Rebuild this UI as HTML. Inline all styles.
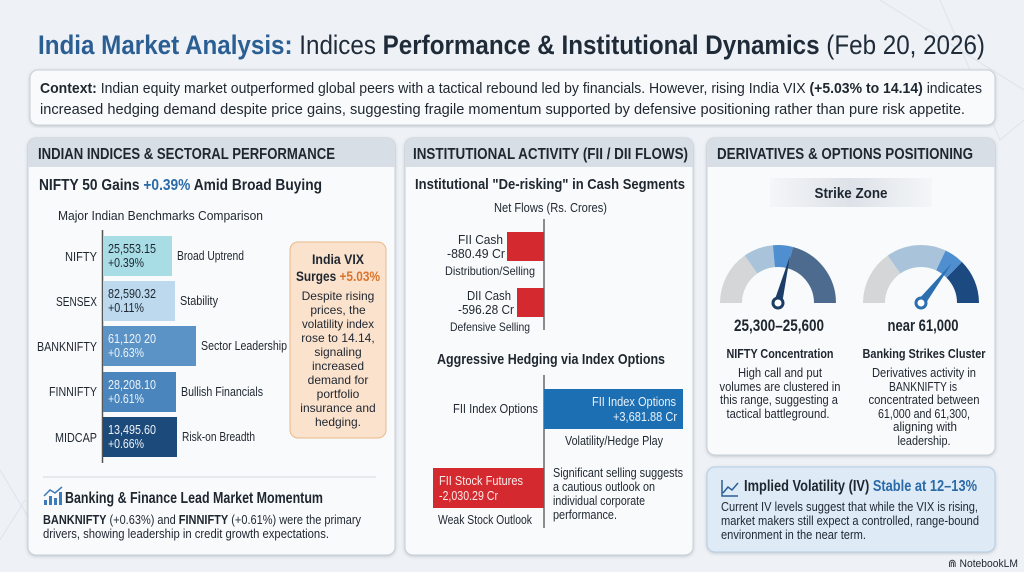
<!DOCTYPE html>
<html><head><meta charset="utf-8"><style>
html,body{margin:0;padding:0;background:#eef1f5;}
svg{display:block;font-family:"Liberation Sans",sans-serif;}
</style></head><body>
<svg width="1024" height="572" viewBox="0 0 1024 572" xmlns="http://www.w3.org/2000/svg">
<defs>
<filter id="sh" x="-5%" y="-5%" width="110%" height="110%"><feDropShadow dx="0" dy="1" stdDeviation="1.5" flood-color="#8a96a3" flood-opacity="0.45"/></filter>
<linearGradient id="sz" x1="0" x2="1"><stop offset="0" stop-color="#f4f6f8"/><stop offset="0.5" stop-color="#dde2e8"/><stop offset="1" stop-color="#f4f6f8"/></linearGradient>
</defs>
<rect width="1024" height="572" fill="#eef1f5"/>
<g stroke="#dfe4ea" stroke-width="1" fill="none">
<path d="M880 0 L1024 90 M940 0 L1000 140 L1024 120 M0 470 L30 520 M0 540 L25 500"/>
</g>
<text x="38" y="54" font-size="27" fill="#1f2b38" textLength="947" lengthAdjust="spacingAndGlyphs"><tspan font-weight="bold" fill="#2b5f94">India Market Analysis:</tspan> Indices <tspan font-weight="bold">Performance &amp; Institutional Dynamics</tspan> (Feb 20, 2026)</text>
<rect x="30" y="70" width="965" height="55" rx="8" fill="#f9fafb" stroke="#c9d0d8" filter="url(#sh)"/>
<text x="40" y="93" font-size="15" fill="#1e2630" textLength="942" lengthAdjust="spacingAndGlyphs"><tspan font-weight="bold">Context:</tspan> Indian equity market outperformed global peers with a tactical rebound led by financials. However, rising India VIX <tspan font-weight="bold">(+5.03% to 14.14)</tspan> indicates</text>
<text x="40" y="114" font-size="15" fill="#1e2630" textLength="925" lengthAdjust="spacingAndGlyphs">increased hedging demand despite price gains, suggesting fragile momentum supported by defensive positioning rather than pure risk appetite.</text>

<!-- Panel 1 -->
<rect x="28" y="138" width="367" height="417" rx="8" fill="#f9fafb" stroke="#c9d0d8" filter="url(#sh)"/>
<path d="M36 138 H387 a8 8 0 0 1 8 8 V167 H28 V146 a8 8 0 0 1 8 -8z" fill="#d8dee5"/>
<text x="38" y="159" font-size="16" font-weight="bold" fill="#1e2630" textLength="297" lengthAdjust="spacingAndGlyphs">INDIAN INDICES &amp; SECTORAL PERFORMANCE</text>
<text x="39" y="190" font-size="16" font-weight="bold" fill="#1e2630" textLength="283" lengthAdjust="spacingAndGlyphs">NIFTY 50 Gains <tspan fill="#2b6aa8">+0.39%</tspan> Amid Broad Buying</text>
<text x="58" y="220" font-size="13" fill="#1e2630" textLength="205" lengthAdjust="spacingAndGlyphs">Major Indian Benchmarks Comparison</text>
<line x1="102.5" y1="230" x2="102.5" y2="463" stroke="#555" stroke-width="1.5"/>
<g font-size="13">
<rect x="103" y="236" width="69" height="40" fill="#a8dde6"/>
<rect x="103" y="281" width="72" height="40" fill="#bcd9ee"/>
<rect x="103" y="326" width="93" height="40" fill="#5b93c7"/>
<rect x="103" y="372" width="73" height="40" fill="#4a86bd"/>
<rect x="103" y="417" width="74" height="40" fill="#1c4a7a"/>
<g text-anchor="end" fill="#1e2630">
<text x="97" y="261" textLength="32" lengthAdjust="spacingAndGlyphs">NIFTY</text>
<text x="97" y="306" textLength="41" lengthAdjust="spacingAndGlyphs">SENSEX</text>
<text x="97" y="351" textLength="60" lengthAdjust="spacingAndGlyphs">BANKNIFTY</text>
<text x="97" y="396" textLength="48" lengthAdjust="spacingAndGlyphs">FINNIFTY</text>
<text x="97" y="442" textLength="42" lengthAdjust="spacingAndGlyphs">MIDCAP</text></g>
<g fill="#1e2630"><text x="108" y="253" textLength="48" lengthAdjust="spacingAndGlyphs">25,553.15</text><text x="108" y="267" textLength="36" lengthAdjust="spacingAndGlyphs">+0.39%</text>
<text x="108" y="298" textLength="48" lengthAdjust="spacingAndGlyphs">82,590.32</text><text x="108" y="312" textLength="36" lengthAdjust="spacingAndGlyphs">+0.11%</text></g>
<g fill="#eef4fa"><text x="108" y="343" textLength="48" lengthAdjust="spacingAndGlyphs">61,120 20</text><text x="108" y="357" textLength="36" lengthAdjust="spacingAndGlyphs">+0.63%</text>
<text x="108" y="389" textLength="48" lengthAdjust="spacingAndGlyphs">28,208.10</text><text x="108" y="403" textLength="36" lengthAdjust="spacingAndGlyphs">+0.61%</text>
<text x="108" y="434" textLength="48" lengthAdjust="spacingAndGlyphs">13,495.60</text><text x="108" y="448" textLength="36" lengthAdjust="spacingAndGlyphs">+0.66%</text></g>
<g fill="#1e2630"><text x="177" y="260" textLength="67" lengthAdjust="spacingAndGlyphs">Broad Uptrend</text><text x="180" y="305" textLength="38" lengthAdjust="spacingAndGlyphs">Stability</text><text x="201" y="350" textLength="86" lengthAdjust="spacingAndGlyphs">Sector Leadership</text><text x="181" y="396" textLength="82" lengthAdjust="spacingAndGlyphs">Bullish Financials</text><text x="182" y="441" textLength="73" lengthAdjust="spacingAndGlyphs">Risk-on Breadth</text></g>
</g>
<rect x="290" y="242" width="96" height="196" rx="8" fill="#fbe2cd" stroke="#e9b88a"/>
<g text-anchor="middle" font-size="12" fill="#1e2630">
<text x="338" y="264" font-weight="bold" font-size="14" textLength="52" lengthAdjust="spacingAndGlyphs">India VIX</text>
<text x="338" y="281" font-weight="bold" font-size="14" textLength="84" lengthAdjust="spacingAndGlyphs">Surges <tspan fill="#d9742c">+5.03%</tspan></text>
<text x="338" y="300">Despite rising</text><text x="338" y="314">prices, the</text><text x="338" y="328" textLength="72" lengthAdjust="spacingAndGlyphs">volatility index</text><text x="338" y="342">rose to 14.14,</text><text x="338" y="356">signaling</text><text x="338" y="370">increased</text><text x="338" y="384">demand for</text><text x="338" y="398">portfolio</text><text x="338" y="412">insurance and</text><text x="338" y="426">hedging.</text></g>
<line x1="43" y1="477" x2="376" y2="477" stroke="#d4d9df"/>
<g fill="#3d7bbd"><rect x="44" y="500" width="3" height="5"/><rect x="49" y="496" width="3" height="9"/><rect x="54" y="498" width="3" height="7"/><rect x="59" y="492" width="3" height="13"/></g>
<path d="M44 496 L50 490 L55 493 L62 487" stroke="#3d7bbd" stroke-width="1.5" fill="none"/>
<text x="65" y="503" font-size="15.5" font-weight="bold" fill="#1e2630" textLength="258" lengthAdjust="spacingAndGlyphs">Banking &amp; Finance Lead Market Momentum</text>
<text x="43" y="524" font-size="13" fill="#1e2630" textLength="318" lengthAdjust="spacingAndGlyphs"><tspan font-weight="bold">BANKNIFTY</tspan> (+0.63%) and <tspan font-weight="bold">FINNIFTY</tspan> (+0.61%) were the primary</text>
<text x="43" y="538" font-size="13" fill="#1e2630" textLength="286" lengthAdjust="spacingAndGlyphs">drivers, showing leadership in credit growth expectations.</text>

<!-- Panel 2 -->
<rect x="405" y="138" width="288" height="417" rx="8" fill="#f9fafb" stroke="#c9d0d8" filter="url(#sh)"/>
<path d="M413 138 H685 a8 8 0 0 1 8 8 V167 H405 V146 a8 8 0 0 1 8 -8z" fill="#d8dee5"/>
<text x="413" y="159" font-size="16" font-weight="bold" fill="#1e2630" textLength="275" lengthAdjust="spacingAndGlyphs">INSTITUTIONAL ACTIVITY (FII / DII FLOWS)</text>
<text x="415" y="189" font-size="15" font-weight="bold" fill="#1e2630" textLength="270" lengthAdjust="spacingAndGlyphs">Institutional "De-risking" in Cash Segments</text>
<text x="494" y="212" font-size="12.5" fill="#1e2630" textLength="113" lengthAdjust="spacingAndGlyphs">Net Flows (Rs. Crores)</text>
<line x1="544" y1="219" x2="544" y2="330" stroke="#444" stroke-width="1.2"/>
<rect x="507" y="232" width="37" height="29" fill="#d42a2f"/>
<rect x="517" y="288" width="27" height="29" fill="#d42a2f"/>
<g font-size="13" fill="#1e2630" text-anchor="end">
<text x="503" y="244" textLength="45" lengthAdjust="spacingAndGlyphs">FII Cash</text><text x="505" y="258" textLength="58" lengthAdjust="spacingAndGlyphs">-880.49 Cr</text>
<text x="511" y="300" textLength="44" lengthAdjust="spacingAndGlyphs">DII Cash</text><text x="514" y="314" textLength="56" lengthAdjust="spacingAndGlyphs">-596.28 Cr</text></g>
<g font-size="12" fill="#1e2630" text-anchor="middle">
<text x="490" y="275" textLength="90" lengthAdjust="spacingAndGlyphs">Distribution/Selling</text><text x="490" y="331" textLength="80" lengthAdjust="spacingAndGlyphs">Defensive Selling</text></g>
<text x="437" y="364" font-size="15" font-weight="bold" fill="#1e2630" textLength="228" lengthAdjust="spacingAndGlyphs">Aggressive Hedging via Index Options</text>
<line x1="544" y1="375" x2="544" y2="528" stroke="#444" stroke-width="1.2"/>
<rect x="544" y="389" width="139" height="40" fill="#1d6fb3"/>
<text x="676" y="406" text-anchor="end" font-size="13" fill="#eaf2fa" textLength="84" lengthAdjust="spacingAndGlyphs">FII Index Options</text>
<text x="677" y="421" text-anchor="end" font-size="13" fill="#eaf2fa" textLength="64" lengthAdjust="spacingAndGlyphs">+3,681.88 Cr</text>
<text x="538" y="413" text-anchor="end" font-size="13" fill="#1e2630" textLength="85" lengthAdjust="spacingAndGlyphs">FII Index Options</text>
<text x="565" y="445" font-size="12.5" fill="#1e2630" textLength="98" lengthAdjust="spacingAndGlyphs">Volatility/Hedge Play</text>
<rect x="433" y="468" width="111" height="40" fill="#d42a2f"/>
<text x="439" y="485" font-size="13" fill="#fbe9e9" textLength="84" lengthAdjust="spacingAndGlyphs">FII Stock Futures</text>
<text x="439" y="500" font-size="13" fill="#fbe9e9" textLength="59" lengthAdjust="spacingAndGlyphs">-2,030.29 Cr</text>
<text x="438" y="524" font-size="12.5" fill="#1e2630" textLength="94" lengthAdjust="spacingAndGlyphs">Weak Stock Outlook</text>
<g font-size="12.5" fill="#1e2630"><text x="553" y="477" textLength="130" lengthAdjust="spacingAndGlyphs">Significant selling suggests</text><text x="553" y="491" textLength="102" lengthAdjust="spacingAndGlyphs">a cautious outlook on</text><text x="553" y="505" textLength="92" lengthAdjust="spacingAndGlyphs">individual corporate</text><text x="553" y="519" textLength="64" lengthAdjust="spacingAndGlyphs">performance.</text></g>

<!-- Panel 3 -->
<rect x="707" y="138" width="288" height="317" rx="8" fill="#f9fafb" stroke="#c9d0d8" filter="url(#sh)"/>
<path d="M715 138 H987 a8 8 0 0 1 8 8 V167 H707 V146 a8 8 0 0 1 8 -8z" fill="#d8dee5"/>
<text x="717" y="159" font-size="16" font-weight="bold" fill="#1e2630" textLength="256" lengthAdjust="spacingAndGlyphs">DERIVATIVES &amp; OPTIONS POSITIONING</text>
<rect x="770" y="178" width="162" height="29" fill="url(#sz)"/>
<text x="851" y="198" text-anchor="middle" font-size="15" font-weight="bold" fill="#1e2630" textLength="73" lengthAdjust="spacingAndGlyphs">Strike Zone</text>
<g fill="none" stroke-width="22">
<path d="M731 303 A47 47 0 0 1 751 264.5" stroke="#d4d6d8"/>
<path d="M751 264.5 A47 47 0 0 1 773.9 256.2" stroke="#a9c4da"/>
<path d="M773.9 256.2 A47 47 0 0 1 790.2 257.6" stroke="#4f8fcf"/>
<path d="M790.2 257.6 A47 47 0 0 1 825 303" stroke="#4d6b8e"/>
<path d="M874 303 A47 47 0 0 1 894 264.5" stroke="#d4d6d8"/>
<path d="M894 264.5 A47 47 0 0 1 940.9 260.4" stroke="#a9c4da"/>
<path d="M940.9 260.4 A47 47 0 0 1 954.2 269.8" stroke="#4f8fcf"/>
<path d="M954.2 269.8 A47 47 0 0 1 968 303" stroke="#1c4a80"/>
</g>
<path d="M774 302 L790 256 L782 304 Z" fill="#1c3d66"/>
<circle cx="778" cy="303" r="5" fill="#fff" stroke="#1c3d66" stroke-width="3"/>
<path d="M918 300 L952 263 L924 306 Z" fill="#2a6fb0"/>
<circle cx="921" cy="303" r="5" fill="#fff" stroke="#2a6fb0" stroke-width="3"/>
<g text-anchor="middle" fill="#1e2630">
<text x="779" y="331" font-size="17" font-weight="bold" textLength="90" lengthAdjust="spacingAndGlyphs">25,300–25,600</text>
<text x="923" y="331" font-size="17" font-weight="bold" textLength="71" lengthAdjust="spacingAndGlyphs">near 61,000</text>
<text x="780" y="358" font-size="13" font-weight="bold" textLength="107" lengthAdjust="spacingAndGlyphs">NIFTY Concentration</text>
<text x="924" y="358" font-size="13" font-weight="bold" textLength="123" lengthAdjust="spacingAndGlyphs">Banking Strikes Cluster</text>
<g font-size="13">
<text x="780" y="377" textLength="84" lengthAdjust="spacingAndGlyphs">High call and put</text>
<text x="780" y="391" textLength="121" lengthAdjust="spacingAndGlyphs">volumes are clustered in</text>
<text x="779" y="404" textLength="118" lengthAdjust="spacingAndGlyphs">this range, suggesting a</text>
<text x="778" y="418" textLength="103" lengthAdjust="spacingAndGlyphs">tactical battleground.</text>
<text x="924" y="377" textLength="104" lengthAdjust="spacingAndGlyphs">Derivatives activity in</text>
<text x="923" y="391" textLength="68" lengthAdjust="spacingAndGlyphs">BANKNIFTY is</text>
<text x="924" y="404" textLength="111" lengthAdjust="spacingAndGlyphs">concentrated between</text>
<text x="924" y="418" textLength="92" lengthAdjust="spacingAndGlyphs">61,000 and 61,300,</text>
<text x="925" y="431" textLength="64" lengthAdjust="spacingAndGlyphs">aligning with</text>
<text x="924" y="445" textLength="53" lengthAdjust="spacingAndGlyphs">leadership.</text></g></g>
<rect x="707" y="467" width="288" height="85" rx="8" fill="#deebf6" stroke="#b7cde2" filter="url(#sh)"/>
<path d="M722 480 V496 H738 M723 493 L728 487 L732 490 L738 483" stroke="#2b5f94" stroke-width="1.5" fill="none"/>
<text x="744" y="491" font-size="15.5" font-weight="bold" fill="#1e2630" textLength="233" lengthAdjust="spacingAndGlyphs">Implied Volatility (IV) <tspan fill="#2b6aa8">Stable at 12–13%</tspan></text>
<g font-size="13" fill="#1e2630"><text x="721" y="511" textLength="257" lengthAdjust="spacingAndGlyphs">Current IV levels suggest that while the VIX is rising,</text><text x="721" y="525" textLength="258" lengthAdjust="spacingAndGlyphs">market makers still expect a controlled, range-bound</text><text x="721" y="539" textLength="145" lengthAdjust="spacingAndGlyphs">environment in the near term.</text></g>
<text x="948" y="567" font-size="11" fill="#1e2630" textLength="70" lengthAdjust="spacingAndGlyphs">⋒ NotebookLM</text>
</svg>
</body></html>
